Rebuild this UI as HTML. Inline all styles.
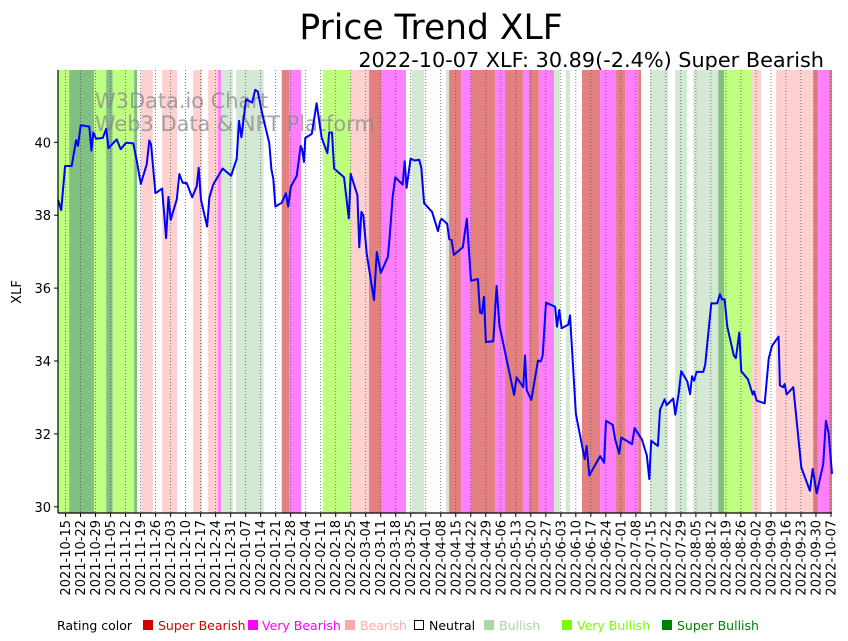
<!DOCTYPE html>
<html><head><meta charset="utf-8"><style>
html,body{margin:0;padding:0;background:#fff;}
svg{display:block;font-family:"DejaVu Sans","Liberation Sans",sans-serif;}
</style></head><body>
<svg id="chart" width="848" height="641" viewBox="0 0 848 641" xmlns="http://www.w3.org/2000/svg">
<text x="431" y="39" font-size="34.5" text-anchor="middle" fill="#000">Price Trend XLF</text>
<text x="824" y="67" font-size="20.8" text-anchor="end" fill="#000">2022-10-07 XLF: 30.89(-2.4%) Super Bearish</text>
<g id="bands"></g>
<g id="grid"></g>
<text x="95" y="108" font-size="20.9" fill="#888" fill-opacity="0.75">W3Data.io Chart</text>
<text x="95" y="131" font-size="20.9" fill="#888" fill-opacity="0.75">Web3 Data &amp; NFT Platform</text>
<g id="series"></g>
<g id="axes"></g>
<text transform="translate(21,292) rotate(-90)" font-size="13" text-anchor="middle">XLF</text>
<g font-size="12.5">
<text x="57" y="630" fill="#000">Rating color</text>
<rect x="143" y="620" width="10" height="10" fill="#d00000"/>
<text x="158" y="630" fill="#d00000">Super Bearish</text>
<rect x="248" y="620" width="10" height="10" fill="#ff00ff"/>
<text x="262" y="630" fill="#ff00ff">Very Bearish</text>
<rect x="345" y="620" width="10" height="10" fill="#ffaaaa"/>
<text x="360" y="630" fill="#ffaaaa">Bearish</text>
<rect x="414.5" y="620.5" width="9" height="9" fill="#fff" stroke="#000"/>
<text x="429" y="630" fill="#000">Neutral</text>
<rect x="484" y="620" width="10" height="10" fill="#a8d8a8"/>
<text x="499" y="630" fill="#a8d8a8">Bullish</text>
<rect x="562" y="620" width="10" height="10" fill="#7cfc00"/>
<text x="577" y="630" fill="#7cfc00">Very Bullish</text>
<rect x="662" y="620" width="10" height="10" fill="#008000"/>
<text x="677" y="630" fill="#008000">Super Bullish</text>
</g>
</svg>
<script>
// Data: time position (chart time units, 364 units span first to last weekly tick)
const priceDays = [-4,-2.1,-0.2,2.9,5.0,5.9,7.2,11.3,12.3,13.2,14.5,17.7,19.3,20.4,24.3,26.2,28.8,32.2,33.9,35.8,38.6,39.8,40.7,42.7,45.9,47.8,48.9,50.0,52.9,54.1,55.7,57.6,60.2,62.4,63.3,64.4,67.3,68.4,70.3,74.7,78.7,81.4,82.5,83.6,85.8,88.7,90.2,91.4,93.3,96.9,97.9,98.8,99.8,102.8,104.8,105.9,107.1,109.9,111.8,112.5,113.4,114.0,117.1,119.4,121.8,124.5,125.4,126.7,127.7,132.4,134.7,135.6,138.8,139.7,140.7,141.6,143.2,146.7,148.0,149.9,153.3,154.0,155.6,156.8,160.3,161.3,162.2,164.1,166.0,168.2,169.2,170.5,174.3,177.1,178.1,178.9,181.5,182.5,183.6,184.7,188.9,190.8,192.8,196.1,197.1,198.0,199.0,199.9,203.4,205.0,206.3,213.3,214.5,217.7,218.5,219.3,221.5,224.7,226.0,226.9,228.5,232.8,233.7,234.8,235.9,239.1,239.9,242.7,246.9,247.8,249.1,254.2,256.1,257.0,260.2,261.4,263.3,264.3,269.4,270.6,274.1,276.4,277.6,278.5,281.7,282.7,284.9,285.9,289.0,290.0,291.6,292.8,295.7,297.0,297.9,298.9,300.1,303.3,304.2,307.1,309.9,311.2,312.2,313.4,314.7,317.8,318.8,320.4,321.3,324.5,326.8,327.4,328.7,332.5,334.4,335.9,339.1,339.7,341.3,342.0,342.9,346.1,349.9,354.0,355.3,357.2,360.3,361.6,362.9,364.5];
const priceValues = [38.42,38.14,39.35,39.35,40.06,39.9,40.47,40.43,39.77,40.27,40.1,40.12,40.37,39.84,40.08,39.81,39.99,39.97,39.47,38.86,39.39,40.05,39.94,38.6,38.73,37.37,38.5,37.87,38.44,39.13,38.89,38.88,38.49,38.8,39.3,38.42,37.69,38.49,38.85,39.28,39.08,39.55,40.59,40.14,41.18,41.09,41.44,41.39,40.84,39.97,39.26,39.0,38.24,38.34,38.6,38.24,38.78,39.08,39.9,39.81,39.46,40.12,40.23,41.07,40.12,39.7,40.27,40.27,39.28,39.04,37.91,39.13,38.55,37.12,38.09,38.0,36.95,35.67,36.99,36.42,36.86,37.32,38.51,39.04,38.84,39.48,38.75,39.55,39.5,39.52,39.3,38.33,38.09,37.56,37.83,37.9,37.76,37.34,37.32,36.91,37.12,37.9,36.2,36.25,35.33,35.31,35.76,34.52,34.54,36.06,34.98,33.07,33.55,33.28,34.15,33.2,32.93,34.01,33.99,34.15,35.6,35.49,34.94,35.4,34.9,35.0,35.25,32.54,31.31,31.67,30.86,31.39,31.21,32.36,32.25,31.85,31.46,31.9,31.72,32.16,31.85,31.41,30.76,31.81,31.67,32.66,32.95,32.79,32.97,32.53,33.11,33.72,33.44,33.09,33.58,33.46,33.7,33.7,33.9,35.58,35.58,35.83,35.69,35.69,34.94,34.15,34.08,34.78,33.72,33.5,33.08,33.17,32.91,32.84,34.06,34.41,34.67,33.33,33.28,33.37,33.08,33.28,31.08,30.44,31.04,30.37,31.17,32.36,32.03,30.9];
const bandStart = [-3.9,1.7,13.6,19.3,22.4,32.6,35.8,45.9,60.6,67.8,72.5,73.9,81.1,102.8,106.4,122.3,135.6,144.3,150.2,164.6,180.9,182.4,188.1,192.8,204.2,209.0,217.5,220.4,225.1,232.3,238.0,245.6,254.2,261.8,266.1,272.3,278.0,289.9,298.5,310.4,313.2,326.6,337.9,355.5,357.8,363.1];
const bandEnd = [1.7,13.6,19.3,22.4,32.6,34.0,41.5,53.0,65.0,72.5,73.9,79.5,94.2,106.4,112.0,135.6,144.3,150.2,161.9,170.5,182.4,188.1,192.8,204.2,209.0,217.5,220.4,225.1,232.3,235.1,239.9,254.2,261.8,266.1,272.3,273.7,286.5,295.6,310.4,313.2,326.6,330.8,355.5,357.8,363.1,364.5];
const bandRating = [2,3,2,3,2,3,-1,-1,-1,-1,-2,1,1,-3,-2,2,-1,-3,-2,1,1,-3,-2,-3,-2,-3,-2,-3,-2,1,1,-3,-2,-3,-2,-3,1,1,1,3,2,-1,-1,-3,-2,-3];
const tickLabels = ["2021-10-15","2021-10-22","2021-10-29","2021-11-05","2021-11-12","2021-11-19","2021-11-26","2021-12-03","2021-12-10","2021-12-17","2021-12-24","2021-12-31","2022-01-07","2022-01-14","2022-01-21","2022-01-28","2022-02-04","2022-02-11","2022-02-18","2022-02-25","2022-03-04","2022-03-11","2022-03-18","2022-03-25","2022-04-01","2022-04-08","2022-04-15","2022-04-22","2022-04-29","2022-05-06","2022-05-13","2022-05-20","2022-05-27","2022-06-03","2022-06-10","2022-06-17","2022-06-24","2022-07-01","2022-07-08","2022-07-15","2022-07-22","2022-07-29","2022-08-05","2022-08-12","2022-08-19","2022-08-26","2022-09-02","2022-09-09","2022-09-16","2022-09-23","2022-09-30","2022-10-07"];
const yTicks = [30,32,34,36,38,40];

const NS = "http://www.w3.org/2000/svg";
const PL = 58, PR = 832, PT = 70, PB = 513;
const D0 = -3.6, D1 = 364.5;
const SPAN = 364; // time units between first and last tick
function xs(d){ return PL + (d - D0) / (D1 - D0) * (PR - PL); }
function ys(v){ return 142.3 + (40 - v) * 36.45; }
const ratingColors = {"3":"#80c080","2":"#bfff80","1":"#d4e9d4","-1":"#ffd0d0","-2":"#ff80ff","-3":"#e38080"};
function mk(tag, attrs){ const e = document.createElementNS(NS, tag); for (const k in attrs) e.setAttribute(k, attrs[k]); return e; }

const bands = document.getElementById('bands');
for (let i = 0; i < bandStart.length; i++) {
  const x0 = Math.max(PL, xs(bandStart[i])), x1 = Math.min(PR, xs(bandEnd[i]));
  const r = mk('rect', {x:x0, y:PT, width:Math.max(0,x1-x0), height:PB-PT, fill:ratingColors[String(bandRating[i])]});
  
  
  bands.appendChild(r);
}
const grid = document.getElementById('grid');
const axes = document.getElementById('axes');
const nT = tickLabels.length;
for (let i = 0; i < nT; i++) {
  const x = xs(i * SPAN / (nT - 1));
  const g = mk('line', {x1:x, x2:x, y1:PT, y2:PB, stroke:'#555', 'stroke-width':0.8, 'stroke-dasharray':'1,2'});
  
  
  grid.appendChild(g);
  const t = mk('line', {x1:x, x2:x, y1:PB, y2:PB+4, stroke:'#000', 'stroke-width':1});
  
  
  axes.appendChild(t);
  const lb = mk('text', {transform:'translate(' + (x + 4.5) + ',' + (PB + 7) + ') rotate(-90)', 'font-size':13, 'text-anchor':'end'});
  lb.textContent = tickLabels[i];
  
  
  axes.appendChild(lb);
}
for (const v of yTicks) {
  const y = ys(v);
  const t = mk('line', {x1:PL-4, x2:PL, y1:y, y2:y, stroke:'#000', 'stroke-width':1});
  
  
  axes.appendChild(t);
  const lb = mk('text', {x:PL-7, y:y+5, 'font-size':13, 'text-anchor':'end'});
  lb.textContent = v;
  
  
  axes.appendChild(lb);
}
const sp1 = mk('line', {x1:PL, x2:PL, y1:PT, y2:PB, stroke:'#000', 'stroke-width':1.2});


axes.appendChild(sp1);
const sp2 = mk('line', {x1:PL, x2:PR, y1:PB, y2:PB, stroke:'#000', 'stroke-width':1.2});


axes.appendChild(sp2);

let d = '';
for (let i = 0; i < priceDays.length; i++) {
  const x = Math.max(PL, Math.min(PR, xs(priceDays[i])));
  d += (i ? 'L' : 'M') + x.toFixed(1) + ',' + ys(priceValues[i]).toFixed(1);
}
const path = mk('path', {d:d, fill:'none', stroke:'#0000ff', 'stroke-width':2, 'stroke-linejoin':'round'});


document.getElementById('series').appendChild(path);
</script>
</body></html>
